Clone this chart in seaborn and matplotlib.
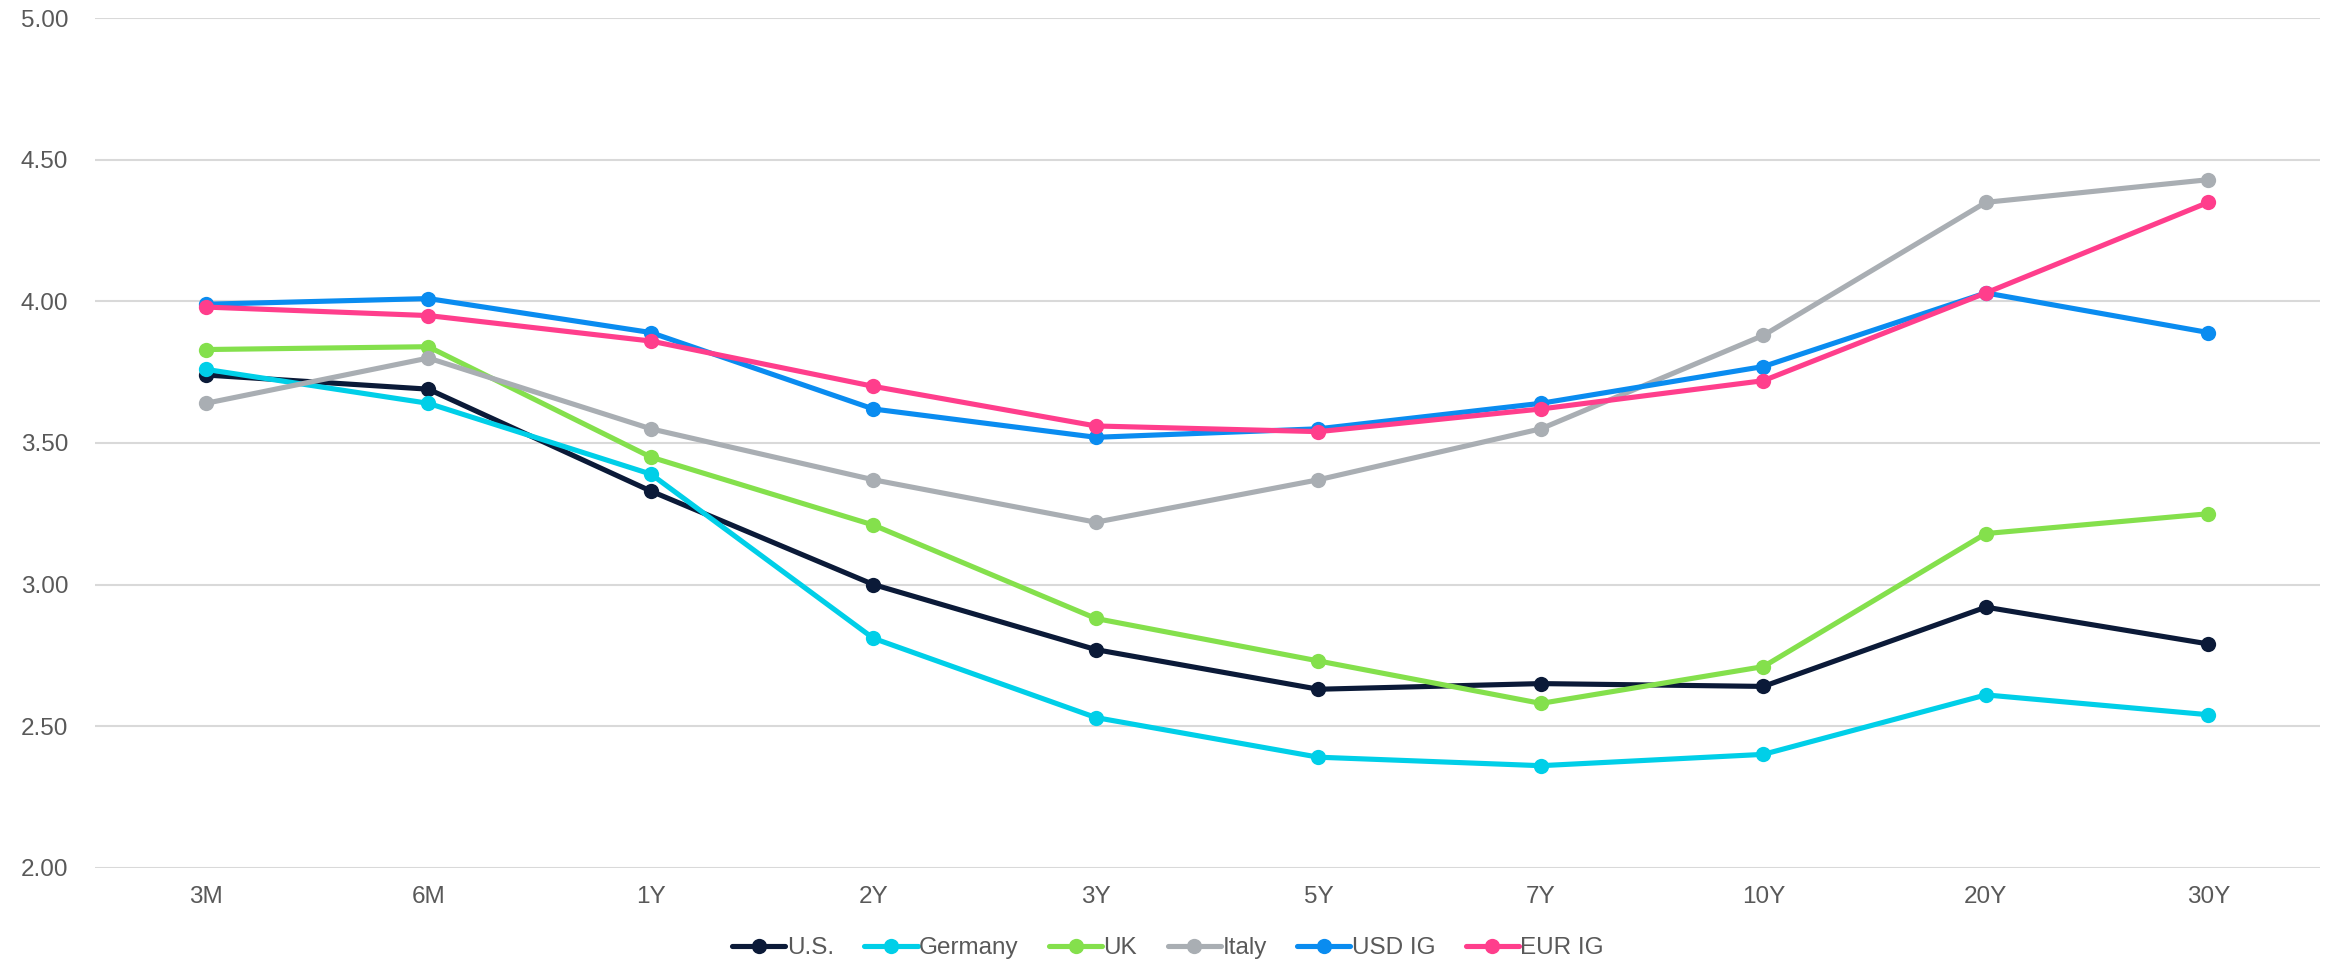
import matplotlib
matplotlib.use("Agg")
import matplotlib.pyplot as plt
import pandas as pd
import seaborn as sns

tenors = ["3M", "6M", "1Y", "2Y", "3Y", "5Y", "7Y", "10Y", "20Y", "30Y"]

us      = [3.74, 3.69, 3.33, 3.00, 2.77, 2.63, 2.65, 2.64, 2.92, 2.79]
germany = [3.76, 3.64, 3.39, 2.81, 2.53, 2.39, 2.36, 2.40, 2.61, 2.54]
uk      = [3.83, 3.84, 3.45, 3.21, 2.88, 2.73, 2.58, 2.71, 3.18, 3.25]
italy   = [3.64, 3.80, 3.55, 3.37, 3.22, 3.37, 3.55, 3.88, 4.35, 4.43]
usd_ig  = [3.99, 4.01, 3.89, 3.62, 3.52, 3.55, 3.64, 3.77, 4.03, 3.89]
eur_ig  = [3.98, 3.95, 3.86, 3.70, 3.56, 3.54, 3.62, 3.72, 4.03, 4.35]

series_names = ["U.S.", "Germany", "UK", "Italy", "USD IG", "EUR IG"]
series_values = [us, germany, uk, italy, usd_ig, eur_ig]
series_colors = ["#0B1A38", "#00CFE8", "#84E04C", "#A9AEB3", "#0A8CF0", "#FF3E8C"]

rows = []
for name, vals in zip(series_names, series_values):
    for i, (t, v) in enumerate(zip(tenors, vals)):
        rows.append({"pos": i, "tenor": t, "series": name, "yield": v})
df = pd.DataFrame(rows)

sns.set_theme(style="white")
plt.rcParams["font.family"] = ["Liberation Sans", "DejaVu Sans"]

fig = plt.figure(figsize=(23.36, 9.64), dpi=100)
ax = fig.add_axes([0.0405, 0.100, 0.9525, 0.881])

sns.lineplot(
    data=df, x="pos", y="yield", hue="series",
    hue_order=series_names, palette=series_colors,
    marker="o", markersize=11, markeredgewidth=0,
    linewidth=3.7, ax=ax, sort=False,
)

yticks = [2.0, 2.5, 3.0, 3.5, 4.0, 4.5, 5.0]
ax.set_xlim(-0.5, len(tenors) - 0.5)
ax.set_ylim(2.0, 5.0)
ax.set_xticks(range(len(tenors)))
ax.set_xticklabels(tenors)
ax.set_yticks(yticks)
ax.set_yticklabels([f"{v:.2f}" for v in yticks])
ax.set_xlabel("")
ax.set_ylabel("")
ax.grid(axis="y", color="#D9D9D9", linewidth=1.5)
ax.grid(axis="x", visible=False)
ax.set_axisbelow(True)
for s in ax.spines.values():
    s.set_visible(False)
ax.tick_params(axis="both", length=0, labelsize=17.5, labelcolor="#595959")
ax.tick_params(axis="x", pad=13)
ax.tick_params(axis="y", pad=19)

handles, labels = ax.get_legend_handles_labels()
ax.get_legend().remove()
fig.legend(
    handles, labels, loc="center", bbox_to_anchor=(0.5, 0.0165),
    bbox_transform=fig.transFigure,
    ncol=6, frameon=False, fontsize=17.5, handlelength=2.2,
    handletextpad=0.05, columnspacing=1.25, labelcolor="#595959",
    borderpad=0.1,
)

fig.savefig("out.png", dpi=100, facecolor="white")
